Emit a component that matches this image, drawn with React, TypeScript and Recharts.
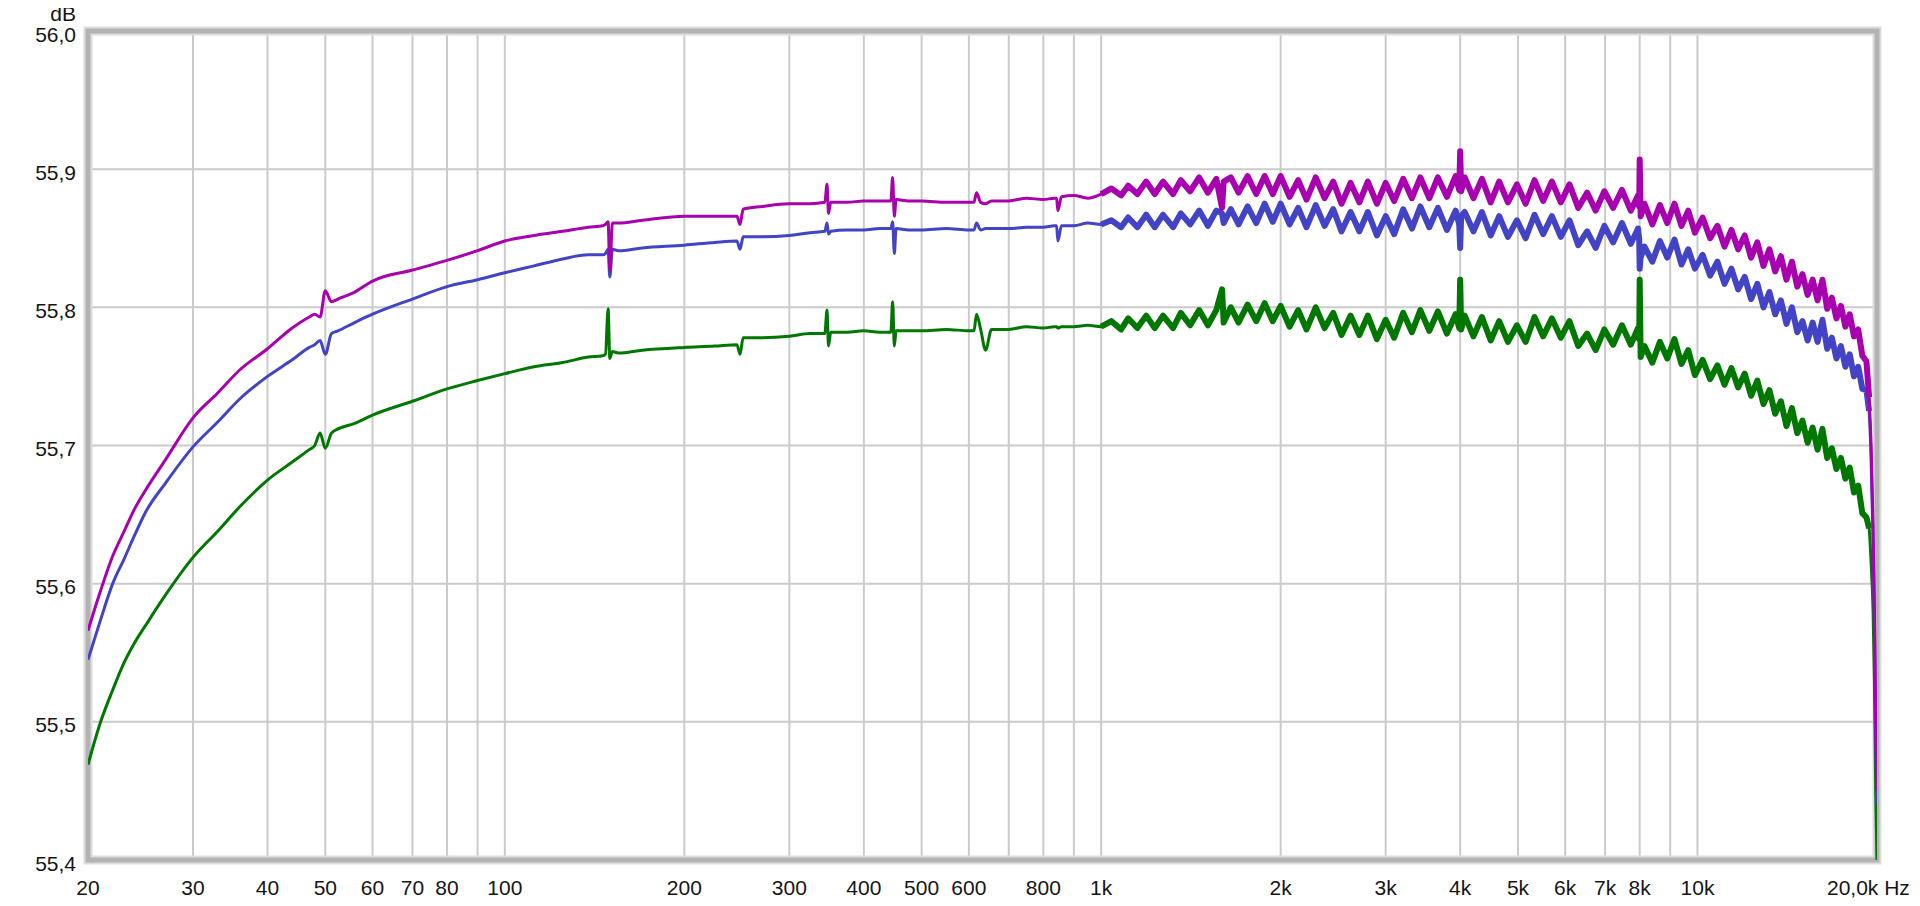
import React from 'react';
import { LineChart, Line, XAxis, YAxis, CartesianGrid, ReferenceArea } from 'recharts';

// Frequencies (Hz)
const FREQ: number[] = [
  20, 21, 22, 23, 24, 25, 27, 30, 33, 36,
  40, 44, 47, 48, 49, 50, 51.2, 52.5, 56, 60,
  70, 80, 90, 100, 112, 125, 138, 146, 147.5, 149,
  150, 151.5, 155, 170, 200, 225, 245, 248, 251, 270,
  300, 325, 344, 347, 349, 352, 375, 400, 425, 444,
  447, 450, 453, 475, 500, 550, 600, 612, 618, 628,
  640, 655, 700, 750, 800, 835, 842, 846, 858, 900,
  950, 1000,
  1040, 1080, 1110, 1150, 1190, 1230, 1270, 1320, 1360, 1410,
  1460, 1510, 1560, 1595, 1605, 1650, 1700, 1760, 1820, 1880,
  1940, 2000, 2070, 2140, 2210, 2290, 2370, 2450, 2530, 2620,
  2710, 2800, 2900, 3000, 3100, 3210, 3320, 3430, 3550, 3670,
  3800, 3930, 3985, 4000, 4015, 4070, 4210, 4350, 4500, 4650,
  4810, 4980, 5150, 5330, 5510, 5700, 5900, 6100, 6310, 6530,
  6750, 6980, 7220, 7470, 7730, 7950, 7985, 8000, 8030, 8150,
  8400, 8650, 8900, 9150, 9400, 9650, 9900, 10200, 10500, 10800,
  11100, 11400, 11700, 12000, 12300, 12600, 12900, 13200, 13500, 13800,
  14100, 14400, 14700, 15000, 15300, 15600, 15900, 16200, 16500, 16800,
  17100, 17400, 17700, 18000, 18300, 18600, 18900, 19200, 19400, 19550,
  19700, 19800, 19900, 20000,
];

// Magenta series (dB)
const MAGENTA: number[] = [
  55.566, 55.595, 55.620, 55.638, 55.655, 55.668, 55.690, 55.720, 55.738, 55.755,
  55.770, 55.785, 55.793, 55.795, 55.793, 55.812, 55.804, 55.806, 55.811, 55.819,
  55.827, 55.834, 55.841, 55.848, 55.852, 55.855, 55.858, 55.859, 55.860, 55.862,
  55.827, 55.861, 55.861, 55.863, 55.866, 55.866, 55.866, 55.860, 55.871, 55.873,
  55.875, 55.875, 55.876, 55.889, 55.868, 55.876, 55.876, 55.877, 55.877, 55.877,
  55.894, 55.866, 55.878, 55.877, 55.877, 55.876, 55.876, 55.876, 55.883, 55.876,
  55.875, 55.877, 55.877, 55.879, 55.878, 55.879, 55.879, 55.870, 55.880, 55.881,
  55.879, 55.882,
  55.886, 55.881, 55.888, 55.882, 55.891, 55.882, 55.891, 55.882, 55.892, 55.884,
  55.894, 55.883, 55.893, 55.872, 55.891, 55.894, 55.883, 55.895, 55.882, 55.895,
  55.882, 55.895, 55.880, 55.892, 55.878, 55.894, 55.879, 55.891, 55.875, 55.890,
  55.876, 55.891, 55.875, 55.890, 55.877, 55.893, 55.879, 55.894, 55.879, 55.894,
  55.880, 55.895, 55.885, 55.913, 55.884, 55.894, 55.879, 55.893, 55.876, 55.891,
  55.876, 55.889, 55.875, 55.892, 55.877, 55.891, 55.876, 55.889, 55.872, 55.883,
  55.870, 55.884, 55.872, 55.885, 55.870, 55.881, 55.873, 55.907, 55.866, 55.875,
  55.860, 55.874, 55.861, 55.875, 55.859, 55.870, 55.854, 55.865, 55.850, 55.859,
  55.844, 55.856, 55.842, 55.852, 55.836, 55.847, 55.830, 55.842, 55.826, 55.837,
  55.820, 55.833, 55.815, 55.824, 55.809, 55.820, 55.805, 55.820, 55.799, 55.807,
  55.792, 55.801, 55.786, 55.795, 55.779, 55.784, 55.765, 55.761, 55.735, 55.700,
  55.640, 55.580, 55.500, 55.450,
];

// Blue series (dB)
const BLUE: number[] = [
  55.545, 55.574, 55.600, 55.618, 55.636, 55.652, 55.673, 55.699, 55.717, 55.734,
  55.750, 55.762, 55.771, 55.773, 55.776, 55.766, 55.781, 55.783, 55.789, 55.795,
  55.806, 55.815, 55.820, 55.825, 55.830, 55.835, 55.838, 55.838, 55.839, 55.842,
  55.822, 55.842, 55.841, 55.843, 55.845, 55.847, 55.848, 55.842, 55.851, 55.851,
  55.852, 55.854, 55.855, 55.861, 55.853, 55.855, 55.856, 55.856, 55.857, 55.857,
  55.862, 55.839, 55.857, 55.856, 55.856, 55.857, 55.856, 55.856, 55.861, 55.856,
  55.857, 55.857, 55.857, 55.858, 55.858, 55.859, 55.859, 55.848, 55.859, 55.859,
  55.861, 55.860,
  55.863, 55.858, 55.865, 55.858, 55.867, 55.858, 55.867, 55.858, 55.868, 55.860,
  55.870, 55.859, 55.870, 55.868, 55.861, 55.871, 55.860, 55.873, 55.861, 55.875,
  55.862, 55.875, 55.860, 55.872, 55.858, 55.874, 55.859, 55.871, 55.855, 55.869,
  55.855, 55.869, 55.852, 55.866, 55.853, 55.871, 55.857, 55.873, 55.858, 55.872,
  55.856, 55.870, 55.860, 55.843, 55.866, 55.869, 55.855, 55.869, 55.852, 55.866,
  55.851, 55.863, 55.850, 55.867, 55.853, 55.866, 55.851, 55.863, 55.845, 55.855,
  55.843, 55.859, 55.847, 55.861, 55.846, 55.857, 55.849, 55.828, 55.836, 55.844,
  55.833, 55.848, 55.836, 55.849, 55.831, 55.842, 55.828, 55.838, 55.823, 55.833,
  55.817, 55.828, 55.813, 55.822, 55.806, 55.817, 55.800, 55.811, 55.795, 55.805,
  55.788, 55.800, 55.782, 55.790, 55.776, 55.789, 55.775, 55.791, 55.770, 55.778,
  55.763, 55.772, 55.757, 55.766, 55.750, 55.757, 55.741, 55.740, 55.725, 55.690,
  55.630, 55.570, 55.490, 55.440,
];

// Green series (dB)
const GREEN: number[] = [
  55.469, 55.500, 55.523, 55.543, 55.558, 55.570, 55.592, 55.619, 55.638, 55.656,
  55.675, 55.688, 55.697, 55.700, 55.709, 55.698, 55.709, 55.712, 55.716, 55.722,
  55.732, 55.741, 55.747, 55.752, 55.757, 55.760, 55.764, 55.765, 55.766, 55.799,
  55.763, 55.768, 55.767, 55.769, 55.771, 55.772, 55.773, 55.766, 55.778, 55.778,
  55.779, 55.781, 55.781, 55.798, 55.772, 55.782, 55.782, 55.783, 55.782, 55.782,
  55.804, 55.772, 55.783, 55.783, 55.783, 55.784, 55.783, 55.783, 55.795, 55.784,
  55.769, 55.784, 55.784, 55.786, 55.785, 55.786, 55.786, 55.785, 55.786, 55.786,
  55.787, 55.786,
  55.790, 55.784, 55.792, 55.785, 55.794, 55.785, 55.794, 55.785, 55.796, 55.787,
  55.798, 55.787, 55.798, 55.813, 55.789, 55.800, 55.789, 55.802, 55.790, 55.803,
  55.790, 55.801, 55.786, 55.798, 55.784, 55.800, 55.785, 55.796, 55.780, 55.794,
  55.780, 55.794, 55.777, 55.791, 55.778, 55.796, 55.782, 55.798, 55.783, 55.797,
  55.781, 55.795, 55.785, 55.820, 55.784, 55.794, 55.779, 55.793, 55.776, 55.790,
  55.775, 55.787, 55.775, 55.793, 55.779, 55.792, 55.778, 55.790, 55.772, 55.781,
  55.769, 55.784, 55.773, 55.787, 55.773, 55.785, 55.777, 55.820, 55.764, 55.772,
  55.760, 55.775, 55.763, 55.777, 55.759, 55.769, 55.751, 55.762, 55.748, 55.758,
  55.744, 55.756, 55.742, 55.752, 55.736, 55.747, 55.730, 55.740, 55.723, 55.732,
  55.714, 55.727, 55.709, 55.718, 55.702, 55.713, 55.697, 55.712, 55.691, 55.698,
  55.683, 55.691, 55.676, 55.684, 55.666, 55.671, 55.651, 55.648, 55.640, 55.615,
  55.580, 55.530, 55.450, 55.400,
];

// Axis ticks and labels
const X_TICKS: number[] = [20, 30, 40, 50, 60, 70, 80, 90, 100, 200, 300, 400, 500, 600, 700, 800, 900,
  1000, 2000, 3000, 4000, 5000, 6000, 7000, 8000, 9000, 10000, 20000];
const X_LABELS: string[] = ['20', '30', '40', '50', '60', '70', '80', '', '100', '200', '300', '400', '500', '600', '', '800', '',
  '1k', '2k', '3k', '4k', '5k', '6k', '7k', '8k', '', '10k', '20,0k Hz'];
const Y_TICKS: number[] = [55.4, 55.5, 55.6, 55.7, 55.8, 55.9, 56.0];
const Y_UNIT = 'dB';
const NOISY_FROM = 1000; // Hz: above this the traces are drawn as a thicker noisy band
const NOISY_TO = 19500;

const data = FREQ.map((f, i) => ({
  f,
  m: MAGENTA[i],
  b: BLUE[i],
  g: GREEN[i],
  mn: f >= NOISY_FROM && f < NOISY_TO ? MAGENTA[i] : null,
  bn: f >= NOISY_FROM && f < NOISY_TO ? BLUE[i] : null,
  gn: f >= NOISY_FROM && f < NOISY_TO ? GREEN[i] : null,
}));

const FONT = '"Liberation Sans", Arial, sans-serif';
const TEXT_COLOR = '#151515';
const FS = 21;

const C_MAG = '#a800ae';
const C_BLUE = '#4343c6';
const C_GREEN = '#007700';

const XTick = (props: any) => {
  const { x, y, payload } = props;
  const idx = X_TICKS.indexOf(payload.value);
  const label = idx >= 0 ? X_LABELS[idx] : '';
  if (!label) return null;
  const isLast = payload.value === 20000;
  return (
    <text
      x={isLast ? x - 50 : x}
      y={y + 25}
      textAnchor={isLast ? 'start' : 'middle'}
      dominantBaseline="central"
      fontFamily={FONT}
      fontSize={FS}
      fill={TEXT_COLOR}
    >
      {label}
    </text>
  );
};

const YTick = (props: any) => {
  const { x, y, payload } = props;
  const v: number = payload.value;
  const label = v.toFixed(1).replace('.', ',');
  return (
    <g>
      <text x={x} y={y + 3} textAnchor="end" dominantBaseline="central" fontFamily={FONT} fontSize={FS} fill={TEXT_COLOR}>
        {label}
      </text>
      {Math.abs(v - 56) < 1e-6 ? (
        <text x={x} y={y - 18} textAnchor="end" dominantBaseline="central" fontFamily={FONT} fontSize={FS} fill={TEXT_COLOR}>
          {Y_UNIT}
        </text>
      ) : null}
    </g>
  );
};

export default function App() {
  return (
    <div style={{ width: 1912, height: 898, background: '#ffffff', marginTop: -8 }}>
      <LineChart
        width={1912}
        height={898}
        data={data}
        margin={{ top: 31, right: 43, left: 10, bottom: 8 }}
      >
        <CartesianGrid stroke="#cbcbcb" strokeWidth={2} />
        <XAxis
          dataKey="f"
          type="number"
          scale="log"
          domain={[20, 20000]}
          allowDataOverflow
          ticks={X_TICKS}
          interval={0}
          tick={<XTick />}
          tickLine={false}
          axisLine={false}
          tickSize={0}
          height={30}
        />
        <YAxis
          type="number"
          domain={[55.4, 56.0]}
          allowDataOverflow
          ticks={Y_TICKS}
          interval={0}
          tick={<YTick />}
          tickLine={false}
          axisLine={false}
          tickSize={0}
          tickMargin={12}
          width={70}
        />
        <Line type="monotone" dataKey="g" stroke={C_GREEN} strokeWidth={3} dot={false} activeDot={false} isAnimationActive={false} />
        <Line type="linear" dataKey="gn" stroke={C_GREEN} strokeWidth={6} strokeLinejoin="round" dot={false} activeDot={false} isAnimationActive={false} />
        <Line type="monotone" dataKey="b" stroke={C_BLUE} strokeWidth={3} dot={false} activeDot={false} isAnimationActive={false} />
        <Line type="linear" dataKey="bn" stroke={C_BLUE} strokeWidth={6} strokeLinejoin="round" dot={false} activeDot={false} isAnimationActive={false} />
        <Line type="monotone" dataKey="m" stroke={C_MAG} strokeWidth={3} dot={false} activeDot={false} isAnimationActive={false} />
        <Line type="linear" dataKey="mn" stroke={C_MAG} strokeWidth={6} strokeLinejoin="round" dot={false} activeDot={false} isAnimationActive={false} />
        <ReferenceArea x1={20} x2={20000} y1={55.4} y2={56.0} fill="none" stroke="#dcdcdc" strokeWidth={9} ifOverflow="visible" />
        <ReferenceArea x1={20} x2={20000} y1={55.4} y2={56.0} fill="none" stroke="#b3b3b3" strokeWidth={5} ifOverflow="visible" />
      </LineChart>
    </div>
  );
}
